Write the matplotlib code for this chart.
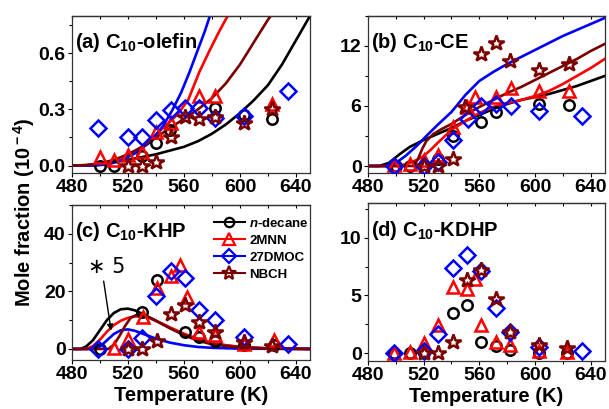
import numpy as np
import matplotlib
matplotlib.use('Agg')
import matplotlib.pyplot as plt
from matplotlib.lines import Line2D
from matplotlib.ticker import MultipleLocator

# ---- STYLE ----
plt.rcParams['font.family'] = ['Liberation Sans', 'DejaVu Sans']
plt.rcParams['font.weight'] = 'bold'
plt.rcParams['mathtext.fontset'] = 'custom'
plt.rcParams['mathtext.rm'] = 'Liberation Sans:bold'
plt.rcParams['mathtext.bf'] = 'Liberation Sans:bold'
plt.rcParams['mathtext.it'] = 'Liberation Sans:italic:bold'

fuels = ['$\\it{n}$-decane', '2MNN', '27DMOC', 'NBCH']
colors = ['black', '#ff0000', '#0000ff', '#7a0000']
markers = ['o', '^', 'D', '*']
msizes = [7.5, 9, 8, 11.5]

# ---- EXPERIMENTS (T in K) ----
# (a) C10-olefin, 1e-4
dec_a_T = [500, 510, 530, 540, 550, 582, 603, 623]
dec_a = [0.0, 0.0, 0.05, 0.12, 0.19, 0.31, 0.27, 0.25]
mnn_a_T = [500, 510, 520, 530, 540, 551, 571, 582, 623]
mnn_a = [0.045, 0.027, 0.054, 0.072, 0.18, 0.23, 0.37, 0.37, 0.33]
dmoc_a_T = [499, 520, 530, 540, 551, 561, 571, 582, 603, 634]
dmoc_a = [0.2, 0.155, 0.155, 0.245, 0.295, 0.31, 0.31, 0.255, 0.265, 0.4]
nbch_a_T = [520, 530, 540, 551, 561, 571, 582, 603, 623]
nbch_a = [0.0, 0.0, 0.02, 0.155, 0.26, 0.25, 0.26, 0.23, 0.30]

# (b) C10-CE
dec_b_T = [500, 510, 530, 541, 561, 572, 603, 624]
dec_b = [0, 0, 0.7, 3.0, 4.4, 5.4, 6.2, 6.1]
mnn_b_T = [499, 510, 520, 530, 541, 551, 557, 572, 583, 603, 624]
mnn_b = [0.1, 0.2, 0.6, 1.1, 3.9, 5.9, 6.9, 6.9, 7.8, 7.5, 7.5]
dmoc_b_T = [499, 520, 530, 541, 552, 561, 572, 583, 603, 634]
dmoc_b = [0, 0, 0.4, 2.55, 4.7, 6.0, 6.2, 6.0, 5.5, 5.0]
nbch_b_T = [520, 530, 541, 550, 561, 572, 582, 603, 624]
nbch_b = [0, 0, 0.7, 5.9, 11.2, 12.3, 10.5, 9.6, 10.2]

# (c) C10-KHP
dec_c_T = [500, 530, 541, 561, 571, 582, 603, 624]
dec_c = [0, 12.8, 24.1, 6.0, 4.3, 2.9, 1.5, 1.5]
mnn_c_T = [510, 520, 531, 541, 551, 557, 562, 571, 582, 603, 624]
mnn_c = [0.3, 3.4, 11.1, 21.3, 25.3, 29.0, 17.9, 6.0, 4.9, 1.7, 3.2]
dmoc_c_T = [499, 520, 530, 540, 551, 561, 571, 582, 603, 634]
dmoc_c = [0, 0, 3.7, 18.5, 27.0, 24.5, 13.4, 10.2, 4.3, 1.8]
nbch_c_T = [520, 530, 541, 551, 561, 571, 582, 603, 623]
nbch_c = [0, 0, 2.6, 12.2, 15.1, 9.4, 6.0, 2.3, 1.1]

# (d) C10-KDHP
dec_d_T = [499, 510, 520, 541, 551, 561, 572, 582, 603, 623]
dec_d = [0, 0, 0, 3.5, 4.15, 1.0, 0.63, 0.3, 0, 0]
mnn_d_T = [499, 510, 520, 530, 541, 551, 557, 561, 572, 582, 603, 623]
mnn_d = [0, 0.06, 0.86, 2.4, 5.7, 5.6, 6.4, 2.4, 1.0, 0.7, 0.14, 0.06]
dmoc_d_T = [499, 520, 530, 541, 551, 561, 572, 582, 603, 634]
dmoc_d = [0, 0.14, 1.66, 7.34, 8.5, 7.1, 3.9, 1.86, 0.57, 0.14]
nbch_d_T = [520, 530, 541, 551, 561, 572, 582, 603, 623]
nbch_d = [0, 0, 1.0, 6.3, 7.2, 4.7, 1.86, 0.7, 0.43]

# ---- MODEL CURVES ----
dec_a_mT = [480, 490, 500, 510, 520, 530, 540, 550, 560, 570, 580, 590, 600, 610, 620, 630, 640, 650]
dec_a_m = [0, 0.002, 0.01, 0.02, 0.03, 0.045, 0.06, 0.08, 0.1, 0.13, 0.17, 0.22, 0.28, 0.35, 0.43, 0.54, 0.67, 0.8]
mnn_a_mT = [480, 495, 505, 515, 525, 535, 545, 555, 563, 571, 578, 584, 589, 592]
mnn_a_m = [0, 0, 0.01, 0.03, 0.07, 0.13, 0.2, 0.27, 0.35, 0.5, 0.61, 0.7, 0.77, 0.81]
dmoc_a_mT = [480, 495, 505, 515, 525, 535, 545, 552, 558, 564, 570, 575, 579]
dmoc_a_m = [0, 0, 0.005, 0.025, 0.065, 0.12, 0.21, 0.3, 0.39, 0.5, 0.62, 0.72, 0.81]
nbch_a_mT = [480, 490, 500, 510, 520, 530, 540, 550, 560, 570, 580, 590, 600, 610, 620, 623]
nbch_a_m = [0, 0.002, 0.012, 0.03, 0.06, 0.1, 0.15, 0.2, 0.25, 0.3, 0.36, 0.44, 0.54, 0.66, 0.78, 0.81]

dec_b_mT = [480, 488, 495, 503, 510, 520, 530, 540, 550, 560, 570, 580, 590, 600, 610, 620, 630, 640, 650]
dec_b_m = [0, 0, 0.3, 1.2, 1.9, 2.6, 3.2, 3.8, 4.5, 5.1, 5.7, 6.2, 6.6, 6.9, 7.2, 7.6, 8.0, 8.5, 9.0]
mnn_b_mT = [480, 500, 505, 510, 515, 520, 525, 530, 540, 550, 560, 570, 580, 590, 600, 610, 620, 630, 640, 650]
mnn_b_m = [0, 0, 0.1, 0.3, 0.6, 1.0, 1.6, 2.3, 3.6, 4.5, 5.3, 5.9, 6.3, 6.6, 7.0, 7.5, 8.2, 9.0, 9.8, 10.7]
dmoc_b_mT = [480, 493, 500, 507, 515, 522, 530, 540, 550, 560, 570, 580, 590, 600, 610, 620, 630, 640, 650]
dmoc_b_m = [0, 0, 0.3, 1.0, 2.0, 3.0, 4.1, 5.4, 7.1, 8.5, 9.4, 10.2, 10.9, 11.6, 12.3, 13.0, 13.6, 14.2, 14.8]
nbch_b_mT = [480, 513, 516, 519, 522, 527, 533, 540, 550, 560, 570, 580, 590, 600, 610, 620, 630, 640, 650]
nbch_b_m = [0, 0, 0.7, 1.7, 2.5, 3.2, 3.7, 4.2, 5.1, 5.9, 6.6, 7.3, 7.9, 8.6, 9.3, 10.0, 10.7, 11.5, 12.2]

# KHP curves are model * 5
dec_c_mT = [480, 486, 490, 495, 500, 505, 510, 515, 520, 525, 530, 540, 550, 560, 570, 580, 590, 600, 620, 650]
dec_c_m = [0, 0, 0.8, 3.0, 6.5, 10, 12.5, 13.8, 14.0, 13.4, 12.3, 9.8, 7.3, 5.0, 3.3, 2.0, 1.2, 0.7, 0.2, 0.0]
mnn_c_mT = [480, 490, 495, 500, 505, 510, 515, 520, 525, 530, 535, 540, 550, 560, 570, 580, 590, 600, 620, 650]
mnn_c_m = [0, 0, 1.0, 3.2, 6.0, 8.3, 9.8, 10.8, 11.3, 11.3, 10.8, 9.8, 7.5, 5.3, 3.5, 2.2, 1.3, 0.7, 0.2, 0]
dmoc_c_mT = [480, 495, 500, 505, 510, 515, 520, 525, 530, 540, 550, 560, 570, 580, 600, 650]
dmoc_c_m = [0, 0, 0.8, 3.0, 5.2, 6.5, 6.8, 6.3, 5.4, 3.6, 2.2, 1.3, 0.7, 0.4, 0.1, 0]
nbch_c_mT = [480, 506, 510, 514, 518, 522, 526, 530, 535, 540, 550, 560, 570, 580, 600, 620, 650]
nbch_c_m = [0, 0, 1.5, 4.5, 8.0, 10.8, 11.8, 11.7, 11.0, 9.8, 7.2, 4.8, 2.9, 1.6, 0.5, 0.1, 0]

panels = [
    ('(a) C$_{\\bf 10}$-olefin',
     [(dec_a_T, dec_a), (mnn_a_T, mnn_a), (dmoc_a_T, dmoc_a), (nbch_a_T, nbch_a)],
     [(dec_a_mT, dec_a_m), (mnn_a_mT, mnn_a_m), (dmoc_a_mT, dmoc_a_m), (nbch_a_mT, nbch_a_m)],
     (-0.04, 0.8), 0.3, [0.118, 0.577, 0.391, 0.384]),
    ('(b) C$_{\\bf 10}$-CE',
     [(dec_b_T, dec_b), (mnn_b_T, mnn_b), (dmoc_b_T, dmoc_b), (nbch_b_T, nbch_b)],
     [(dec_b_mT, dec_b_m), (mnn_b_mT, mnn_b_m), (dmoc_b_mT, dmoc_b_m), (nbch_b_mT, nbch_b_m)],
     (-0.7, 15), 6, [0.604, 0.577, 0.389, 0.384]),
    ('(c) C$_{\\bf 10}$-KHP',
     [(dec_c_T, dec_c), (mnn_c_T, mnn_c), (dmoc_c_T, dmoc_c), (nbch_c_T, nbch_c)],
     [(dec_c_mT, dec_c_m), (mnn_c_mT, mnn_c_m), (dmoc_c_mT, dmoc_c_m), (nbch_c_mT, nbch_c_m)],
     (-3.8, 50), 20, [0.118, 0.12, 0.391, 0.379]),
    ('(d) C$_{\\bf 10}$-KDHP',
     [(dec_d_T, dec_d), (mnn_d_T, mnn_d), (dmoc_d_T, dmoc_d), (nbch_d_T, nbch_d)],
     [],
     (-0.7, 13), 5, [0.604, 0.117, 0.389, 0.386]),
]

# ---- VISUALIZE ----
fig = plt.figure(figsize=(6.09, 4.09), dpi=100)
axes = []
for title, exps, models, ylim, ystep, pos in panels:
    ax = fig.add_axes(pos)
    for (mT, m), c in zip(models, colors):
        ax.plot(mT, m, color=c, lw=1.9, zorder=2)
    for (T, y), c, mk, ms in zip(exps, colors, markers, msizes):
        ax.plot(T, y, ls='none', marker=mk, ms=ms, mfc='none', mec=c, mew=1.8, zorder=3)
    ax.set_xlim(480, 650)
    ax.set_ylim(*ylim)
    ax.xaxis.set_major_locator(MultipleLocator(40))
    ax.xaxis.set_minor_locator(MultipleLocator(20))
    ax.yaxis.set_major_locator(MultipleLocator(ystep))
    ax.yaxis.set_minor_locator(MultipleLocator(ystep / 2))
    ax.tick_params(which='both', direction='out', labelsize=14, pad=1.5, width=0.8)
    ax.tick_params(which='major', length=3)
    ax.tick_params(which='minor', length=2)
    for lab in ax.get_xticklabels() + ax.get_yticklabels():
        lab.set_fontweight('bold')
    top = ax.secondary_xaxis('top')
    top.xaxis.set_major_locator(MultipleLocator(20))
    top.tick_params(direction='in', length=2.5, labeltop=False, width=0.8)
    for sp in list(ax.spines.values()) + [top.spines['top']]:
        sp.set_linewidth(0.9)
        sp.set_color('#333333')
    ax.text(0.012, 0.83, title, transform=ax.transAxes, fontsize=14.5,
            fontweight='bold', va='center', ha='left')
    axes.append(ax)

# ---- ANNOTATION & LEGEND ----
axes[2].annotate('', xy=(508.3, 5.4), xytext=(502.4, 24.5),
                 arrowprops=dict(arrowstyle='-|>', color='black', lw=1.0, mutation_scale=9))
axes[2].text(505, 28.5, '\u2217 5', fontsize=15, fontweight='normal', ha='center', va='center',
             family='DejaVu Sans')

handles = [Line2D([], [], color=c, lw=1.5, marker=mk, ms=ms * 0.9, mfc='none', mec=c, mew=1.6)
           for c, mk, ms in zip(colors, markers, msizes)]
axes[2].legend(handles, fuels, loc='upper right', bbox_to_anchor=(1.04, 0.99), frameon=False,
               prop={'weight': 'bold', 'size': 9.5}, handlelength=2.4, handletextpad=0.3,
               labelspacing=0.35, borderaxespad=0.4)

for ax in axes[2:]:
    ax.set_xlabel('Temperature (K)', fontsize=14.5, fontweight='bold', labelpad=2)
fig.text(0.04, 0.48, 'Mole fraction (10$^{\\bf -4}$)', rotation=90, fontsize=14.5,
         fontweight='bold', ha='center', va='center')

fig.savefig('out.png', dpi=100)
